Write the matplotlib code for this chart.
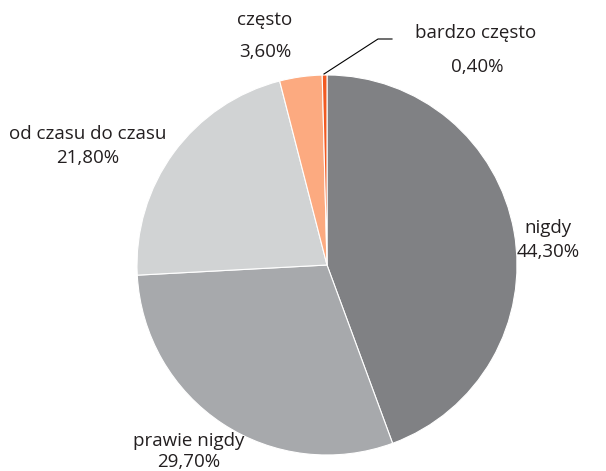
import matplotlib
matplotlib.use("Agg")
import matplotlib.pyplot as plt

labels = ["nigdy", "prawie nigdy", "od czasu do czasu", "często", "bardzo często"]
values = [44.3, 29.7, 21.8, 3.6, 0.4]
pct_labels = ["44,30%", "29,70%", "21,80%", "3,60%", "0,40%"]
colors = ["#808184", "#a7a9ac", "#d1d3d4", "#fcaa80", "#f15a22"]

plt.rcParams['font.family'] = ['Open Sans', 'DejaVu Sans']

W, H = 606, 471
fig = plt.figure(figsize=(W/100, H/100), dpi=100)
ax = fig.add_axes([0, 0, 1, 1])

cx, cy, r = 327, H - 265, 190
ax.pie(values, colors=colors, startangle=90, counterclock=False,
       center=(cx, cy), radius=r, frame=True,
       wedgeprops=dict(edgecolor='white', linewidth=0.8))
ax.set_xlim(0, W)
ax.set_ylim(0, H)
ax.set_aspect('equal')
ax.axis('off')

fs = 13.5
col = "#231f20"
pos = {
    "nigdy": [(548, 228), (548, 252)],
    "prawie nigdy": [(189, 441), (189, 462)],
    "od czasu do czasu": [(88, 134), (88, 158)],
    "często": [(265, 20), (265, 52)],
    "bardzo często": [(476, 33), (477, 67)],
}
for lab, pl in zip(labels, pct_labels):
    (x1, y1), (x2, y2) = pos[lab]
    ax.text(x1, H - y1, lab, ha='center', va='center', fontsize=fs, color=col)
    ax.text(x2, H - y2, pl, ha='center', va='center', fontsize=fs, color=col)

# leader line for bardzo często
ax.plot([324, 378, 392], [H - 74, H - 39, H - 39], color='black', lw=0.8)

fig.savefig("out.png", dpi=100)
